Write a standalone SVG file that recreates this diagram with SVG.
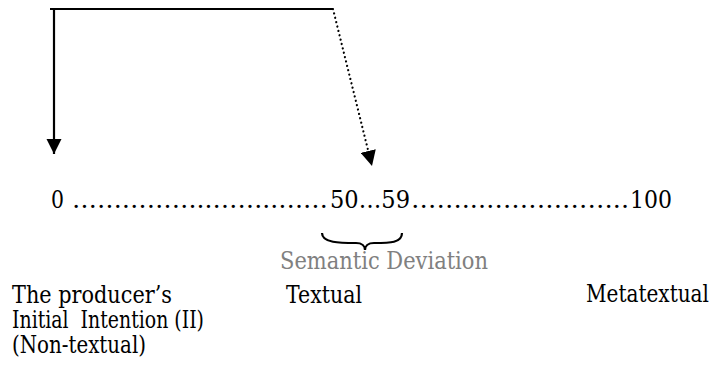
<svg xmlns="http://www.w3.org/2000/svg" width="714" height="370" viewBox="0 0 714 370">
<style>
.t{font-family:'DejaVu Serif','Liberation Serif',serif;font-size:23.5px;fill:#000}
.gray{fill:#808080}
.ln{stroke:#000;stroke-width:2.2;fill:none}
.dot{stroke:#000;stroke-width:2.2;fill:none;stroke-dasharray:0.1 4.4;stroke-linecap:round}
</style>
<defs>
<marker id="ah" viewBox="0 0 10 10" refX="10" refY="5" markerWidth="7" markerHeight="7" markerUnits="strokeWidth" orient="auto">
<path d="M0,0 L10,5 L0,10 z" fill="#000"/>
</marker>
</defs>
<rect width="714" height="370" fill="#fff"/>
<g id="connectors">
<path class="ln" d="M50,9 H333"/>
<path class="ln" d="M54,9 V154" marker-end="url(#ah)"/>
<path class="dot" d="M333,9 L372,166" marker-end="url(#ah)"/>
<path class="ln" d="M322,233 C322,243 340,243 356,243 C362,243 365,246 365,250 C365,246 368,243 374,243 C390,243 402,243 402,233" stroke-width="1.8"/>
</g>
<g id="scale">
<text class="t" y="208"><tspan x="51" textLength="13" lengthAdjust="spacingAndGlyphs">0</tspan><tspan x="72" textLength="256" lengthAdjust="spacingAndGlyphs">……………..……..……</tspan><tspan x="330" textLength="80" lengthAdjust="spacingAndGlyphs">50…59</tspan><tspan x="411" textLength="218" lengthAdjust="spacingAndGlyphs">……...……………..</tspan><tspan x="630" textLength="42" lengthAdjust="spacingAndGlyphs">100</tspan></text>
</g>
<g id="semantic-deviation">
<text class="t gray" x="280" y="269" textLength="208" lengthAdjust="spacingAndGlyphs">Semantic Deviation</text>
</g>
<g id="non-textual">
<text class="t" x="12" y="303" textLength="160" lengthAdjust="spacingAndGlyphs">The producer’s</text>
<text class="t" x="12" y="328" xml:space="preserve" textLength="192" lengthAdjust="spacingAndGlyphs">Initial  Intention (II)</text>
<text class="t" x="12" y="353" textLength="134" lengthAdjust="spacingAndGlyphs">(Non-textual)</text>
</g>
<g id="textual">
<text class="t" x="286" y="303" textLength="76" lengthAdjust="spacingAndGlyphs">Textual</text>
</g>
<g id="metatextual">
<text class="t" x="586" y="302" textLength="123" lengthAdjust="spacingAndGlyphs">Metatextual</text>
</g>
</svg>
